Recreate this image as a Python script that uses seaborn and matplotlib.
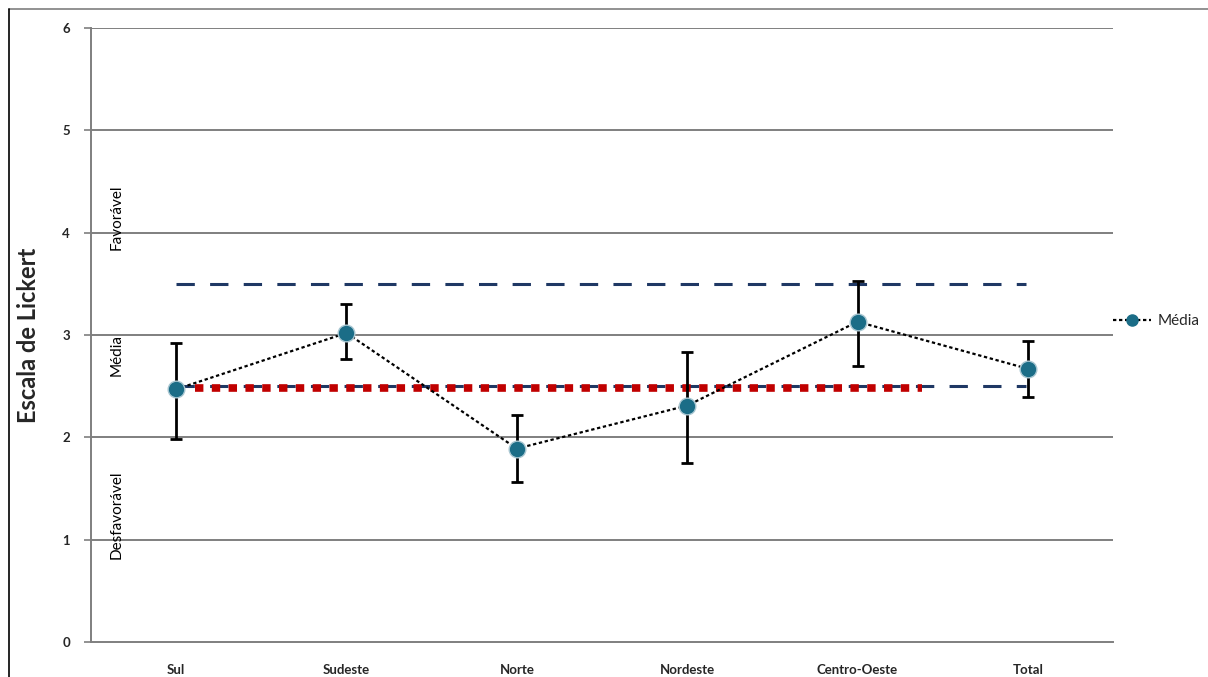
import matplotlib
matplotlib.use("Agg")
import matplotlib.pyplot as plt
import seaborn as sns
import pandas as pd
from matplotlib.lines import Line2D

# Regional means on the Likert scale with their error ranges
regions = ["Sul", "Sudeste", "Norte", "Nordeste", "Centro-Oeste", "Total"]
means = [2.47, 3.02, 1.89, 2.31, 3.13, 2.67]
err_high = [2.92, 3.30, 2.22, 2.83, 3.53, 2.94]
err_low = [1.98, 2.77, 1.56, 1.75, 2.70, 2.39]

# Reference levels
upper_ref = 3.50
lower_ref = 2.50
red_ref = 2.48
red_span = [0.11, 4.38]
ref_span = [0.0, 4.99]

zone_labels = ["Favorável", "Média", "Desfavorável"]
zone_y = [4.15, 2.8, 1.24]
y_ticks = [0, 1, 2, 3, 4, 5, 6]

sns.set_theme(style="white")
plt.rcParams["font.family"] = ["Lato", "DejaVu Sans"]

df = pd.DataFrame({"Região": regions, "Média": means})
fig = plt.figure(figsize=(12.08, 6.77), dpi=100)
ax = fig.add_axes([0.0753, 0.0517, 0.8461, 0.9069])

for v in y_ticks[1:]:
    ax.axhline(v, color="#7f7f7f", lw=1.4, zorder=1)

ax.plot(ref_span, [upper_ref, upper_ref], color="#1f3864", lw=2.2,
        linestyle=(0, (6, 5)), zorder=2)
ax.plot(ref_span, [lower_ref, lower_ref], color="#1f3864", lw=2.2,
        linestyle=(0, (6, 5)), zorder=2)
ax.plot(red_span, [red_ref, red_ref], color="#c00000", lw=5.5,
        linestyle=(0, (1.1, 1.1)), zorder=3)

x = list(range(len(regions)))
yerr = [[m - lo for m, lo in zip(means, err_low)],
        [hi - m for m, hi in zip(means, err_high)]]
ax.errorbar(x, means, yerr=yerr, fmt="none", ecolor="black", elinewidth=2,
            capsize=4, capthick=2, zorder=4)

sns.lineplot(data=df, x="Região", y="Média", ax=ax, color="black", lw=1.6,
             linestyle=(0, (1.5, 1.2)), marker="o", markersize=12,
             markerfacecolor="#1b6d87", markeredgecolor="#a9c7d2",
             markeredgewidth=1, sort=False, zorder=5)

ax.set_xlim(-0.5, 5.5)
ax.set_ylim(0, 6)
ax.set_yticks(y_ticks)
ax.set_yticklabels([str(t) for t in y_ticks], fontsize=9.5, fontweight="bold")
ax.set_xticks(x)
ax.set_xticklabels(regions, fontsize=9.5, fontweight="bold")
ax.set_xticks([i - 0.5 for i in range(len(regions) + 1)], minor=True)
ax.tick_params(axis="x", which="major", length=0, pad=16)
ax.tick_params(axis="x", which="minor", length=5, width=1.2, color="#7f7f7f",
               direction="out")
ax.tick_params(axis="y", length=5, width=1.2, color="#7f7f7f", direction="out",
               left=True, pad=10)
ax.set_xlabel("")
ax.set_ylabel("Escala de Lickert", fontsize=17, fontweight="bold")
ax.yaxis.set_label_coords(-0.05, 0.5)

for sp in ["top", "right"]:
    ax.spines[sp].set_visible(False)
for sp in ["left", "bottom"]:
    ax.spines[sp].set_color("#7f7f7f")
    ax.spines[sp].set_linewidth(1.4)

for lab, yv in zip(zone_labels, zone_y):
    ax.text(-0.35, yv, lab, rotation=90, ha="center", va="center",
            fontsize=11, color="black")

handle = Line2D([0], [0], color="black", lw=1.6, linestyle=(0, (1.5, 1.2)),
                marker="o", markersize=8, markerfacecolor="#1b6d87",
                markeredgecolor="#1b6d87")
fig.legend([handle], ["Média"], loc="center left",
           bbox_to_anchor=(0.919, 1 - 321 / 677), frameon=False, fontsize=11,
           handlelength=2.5, handletextpad=0.4, borderaxespad=0,
           borderpad=0.2)

# Outer frame: grey top edge and dark left edge
fig.add_artist(Line2D([9 / 1208, 1], [1 - 9 / 677, 1 - 9 / 677],
                      transform=fig.transFigure, color="#7f7f7f", lw=1.2))
fig.add_artist(Line2D([9 / 1208, 9 / 1208], [0, 1 - 9 / 677],
                      transform=fig.transFigure, color="black", lw=1.2))

fig.savefig("out.png", dpi=100)
